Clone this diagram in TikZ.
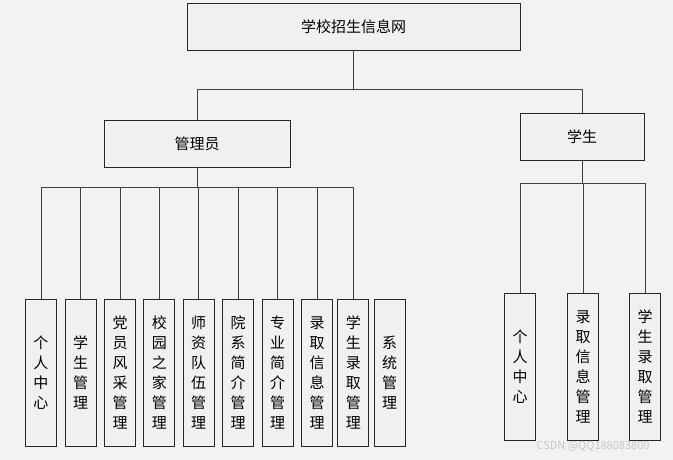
\documentclass[tikz,border=0pt]{standalone}
\usepackage{fontspec}
\usepackage{xcolor}
\usepackage{tikz}
\newfontfamily\cjk{Noto Sans CJK SC}
\definecolor{boxfill}{HTML}{F0F0F0}
\definecolor{bgfill}{HTML}{F2F2F2}
\tikzset{
  box/.style={draw=black!85,fill=boxfill,line width=.9pt,inner sep=0pt,
    align=center,font=\cjk\fontsize{15}{20}\selectfont},
  hbox/.style={box,minimum height=47pt},
  vbox/.style={box,minimum width=31pt,minimum height=147pt},
  link/.style={draw=black!75,line width=.9pt}
}

\begin{document}
\begin{tikzpicture}[x=1pt,y=-1pt]
  \fill[bgfill] (0,0) rectangle (673,460);
  \useasboundingbox (0,0) rectangle (673,460);

  % upper levels
  \node[hbox,minimum width=333pt] (root) at (353.5,26.5) {学校招生信息网};
  \node[hbox,minimum width=186pt] (adm) at (197,143.5) {管理员};
  \node[hbox,minimum width=124pt] (stu) at (582,136.5) {学生};

  \coordinate (busTop) at (353.5,89);
  \draw[link] (root.south) -- (busTop);
  \draw[link] (busTop) -| (adm.north);
  \draw[link] (busTop) -| (stu.north);

  % admin modules
  \foreach \i/\x/\t in {1/41/{个\\人\\中\\心},2/80.5/{学\\生\\管\\理},
      3/120/{党\\员\\风\\采\\管\\理},4/159.3/{校\\园\\之\\家\\管\\理},
      5/198.7/{师\\资\\队\\伍\\管\\理},6/238/{院\\系\\简\\介\\管\\理},
      7/277.7/{专\\业\\简\\介\\管\\理},8/317/{录\\取\\信\\息\\管\\理},
      9/353.3/{学\\生\\录\\取\\管\\理},10/389.7/{系\\统\\管\\理}}
    \node[vbox] (a\i) at (\x,372.5) {\t};

  \coordinate (busAdm) at (197,187);
  \draw[link] (adm.south) -- (busAdm);
  \foreach \i in {1,...,9}
    \draw[link] (busAdm) -| (a\i.north);

  % student modules
  \foreach \i/\x/\t in {1/520/{个\\人\\中\\心},2/583/{录\\取\\信\\息\\管\\理},
      3/645/{学\\生\\录\\取\\管\\理}}
    \node[vbox] (s\i) at (\x,366.7) {\t};

  \coordinate (busStu) at (582,183.3);
  \draw[link] (stu.south) -- (busStu);
  \foreach \i in {1,2,3}
    \draw[link] (busStu) -| (s\i.north);

  \node[text=black!22,font=\cjk\fontsize{11}{11}\selectfont] (mark) at (593,446.5) {CSDN @QQ188083800};

\end{tikzpicture}
\end{document}
